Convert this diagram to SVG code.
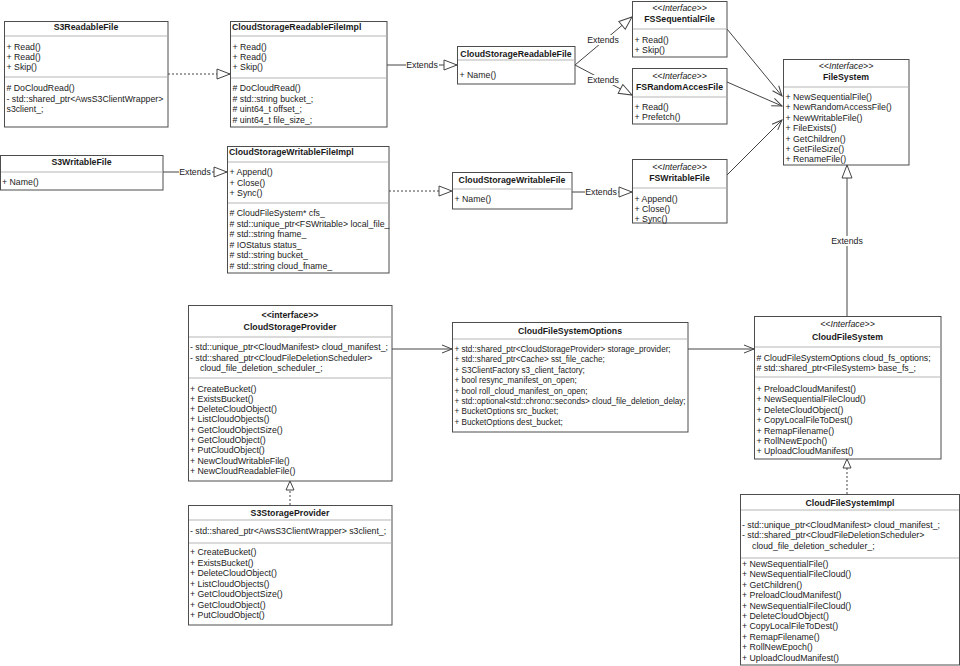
<svg xmlns="http://www.w3.org/2000/svg" width="960" height="666" viewBox="0 0 960 666">
<style>
.bg{fill:#fff}
.box{fill:#fff;stroke:#4d4d4d;stroke-width:1}
.sep{stroke:#b5b5b5;stroke-width:1}
text{font-family:"Liberation Sans",Arial,Helvetica,sans-serif;font-size:8.75px;fill:#1a1a1a}
.b{font-weight:bold}
.i{font-style:italic}
.m{text-anchor:middle}
.o{font-size:8.15px}
.c{stroke:#444;stroke-width:1;fill:none}
.d{stroke-dasharray:2 2}
.lb{fill:#fff}
</style>
<defs>
<marker id="tri" viewBox="-1 -1 15 12" refX="13" refY="5" markerWidth="15" markerHeight="12" orient="auto" markerUnits="userSpaceOnUse"><path d="M0,0 L13,5 L0,10 Z" fill="#fff" stroke="#444" stroke-width="1"/></marker>
<marker id="tri2" viewBox="-1 -1 11 10" refX="9" refY="4" markerWidth="11" markerHeight="10" orient="auto" markerUnits="userSpaceOnUse"><path d="M0,0 L9,4 L0,8 Z" fill="#fff" stroke="#444" stroke-width="1"/></marker>
<marker id="open" viewBox="-1 -1 12 10" refX="10" refY="4" markerWidth="12" markerHeight="10" orient="auto" markerUnits="userSpaceOnUse"><path d="M0,0 L10,4 L0,8" fill="none" stroke="#444" stroke-width="1"/></marker>
</defs>
<rect class="bg" x="0" y="0" width="960" height="666"/>

<g id="connectors">
<path class="c d" d="M168,74 L230,74" marker-end="url(#tri)"/>
<path class="c" d="M387,65 L457,65" marker-end="url(#tri)"/>
<path class="c" d="M575,65 L632,17" marker-end="url(#tri)"/>
<path class="c" d="M575,65 L632,95" marker-end="url(#tri)"/>
<path class="c" d="M727,29 L782,96" marker-end="url(#open)"/>
<path class="c" d="M727,82 L782,106" marker-end="url(#open)"/>
<path class="c" d="M727,175 L782,120" marker-end="url(#open)"/>
<path class="c" d="M163,172 L227,172" marker-end="url(#tri)"/>
<path class="c d" d="M389,191 L452,191" marker-end="url(#tri)"/>
<path class="c" d="M572,192 L632,192" marker-end="url(#tri)"/>
<path class="c" d="M847,316 L847,165" marker-end="url(#tri)"/>
<path class="c d" d="M847,494 L847,459" marker-end="url(#tri2)"/>
<path class="c d" d="M290,505 L290,481" marker-end="url(#tri2)"/>
<path class="c" d="M392,349 L452,349" marker-end="url(#open)"/>
<path class="c" d="M688,349 L754,349" marker-end="url(#open)"/>
<rect class="lb" x="406" y="60" width="33" height="10"/><text class="m" x="422" y="68">Extends</text>
<rect class="lb" x="587" y="35" width="33" height="10"/><text class="m" x="603" y="43">Extends</text>
<rect class="lb" x="587" y="75" width="33" height="10"/><text class="m" x="603" y="83">Extends</text>
<rect class="lb" x="179" y="167" width="33" height="10"/><text class="m" x="195" y="175">Extends</text>
<rect class="lb" x="585" y="187" width="33" height="10"/><text class="m" x="601" y="195">Extends</text>
<rect class="lb" x="831" y="236" width="33" height="10"/><text class="m" x="847" y="244">Extends</text>
</g>

<g id="S3ReadableFile">
<rect class="box" x="4.5" y="21.5" width="163.5" height="105.5"/>
<line class="sep" x1="5" y1="36" x2="167.5" y2="36"/>
<line class="sep" x1="5" y1="77" x2="167.5" y2="77"/>
<text class="b m" x="86" y="30">S3ReadableFile</text>
<text x="6.5" y="50">+ Read()</text>
<text x="6.5" y="60">+ Read()</text>
<text x="6.5" y="70">+ Skip()</text>
<text x="6.5" y="91"># DoCloudRead()</text>
<text x="6.5" y="101.5">- std::shared_ptr&lt;AwsS3ClientWrapper&gt;</text>
<text x="6.5" y="112">s3client_;</text>
</g>

<g id="CloudStorageReadableFileImpl">
<rect class="box" x="230.5" y="21.5" width="156.5" height="105.5"/>
<line class="sep" x1="231" y1="36" x2="386.5" y2="36"/>
<line class="sep" x1="231" y1="78" x2="386.5" y2="78"/>
<text class="b" x="232" y="30">CloudStorageReadableFileImpl</text>
<text x="232.5" y="50">+ Read()</text>
<text x="232.5" y="60">+ Read()</text>
<text x="232.5" y="70">+ Skip()</text>
<text x="232.5" y="91"># DoCloudRead()</text>
<text x="232.5" y="101.5"># std::string bucket_;</text>
<text x="232.5" y="112"># uint64_t  offset_;</text>
<text x="232.5" y="122.5"># uint64_t  file_size_;</text>
</g>

<g id="CloudStorageReadableFile">
<rect class="box" x="457.5" y="46.5" width="117.5" height="37.5"/>
<line class="sep" x1="458" y1="60" x2="574.5" y2="60"/>
<text class="b m" x="516" y="57">CloudStorageReadableFile</text>
<text x="459.5" y="77.5">+ Name()</text>
</g>

<g id="FSSequentialFile">
<rect class="box" x="632.5" y="1.5" width="94.5" height="55.5"/>
<line class="sep" x1="633" y1="29" x2="726.5" y2="29"/>
<text class="i m" x="679.5" y="11">&lt;&lt;Interface&gt;&gt;</text>
<text class="b m" x="679.5" y="22">FSSequentialFile</text>
<text x="634.5" y="43">+ Read()</text>
<text x="634.5" y="53">+ Skip()</text>
</g>

<g id="FSRandomAccesFile">
<rect class="box" x="632.5" y="68.5" width="94.5" height="55.5"/>
<line class="sep" x1="633" y1="97" x2="726.5" y2="97"/>
<text class="i m" x="679.5" y="79">&lt;&lt;Interface&gt;&gt;</text>
<text class="b m" x="679.5" y="89.5">FSRandomAccesFile</text>
<text x="634.5" y="110">+ Read()</text>
<text x="634.5" y="120">+ Prefetch()</text>
</g>

<g id="FileSystem">
<rect class="box" x="783.5" y="59.5" width="125.5" height="105.5"/>
<line class="sep" x1="784" y1="87" x2="908.5" y2="87"/>
<text class="i m" x="846" y="69">&lt;&lt;Interface&gt;&gt;</text>
<text class="b m" x="846" y="80">FileSystem</text>
<text x="785.5" y="100">+ NewSequentialFile()</text>
<text x="785.5" y="110.4">+ NewRandomAccessFile()</text>
<text x="785.5" y="120.8">+ NewWritableFile()</text>
<text x="785.5" y="131.2">+ FileExists()</text>
<text x="785.5" y="141.6">+ GetChildren()</text>
<text x="785.5" y="152">+ GetFileSize()</text>
<text x="785.5" y="162.4">+ RenameFile()</text>
</g>

<g id="S3WritableFile">
<rect class="box" x="0.5" y="155.5" width="162.5" height="34.5"/>
<line class="sep" x1="1" y1="172" x2="162.5" y2="172"/>
<text class="b m" x="81.5" y="164.5">S3WritableFile</text>
<text x="2" y="185">+ Name()</text>
</g>

<g id="CloudStorageWritableFileImpl">
<rect class="box" x="227.5" y="146.5" width="161.5" height="126.5"/>
<line class="sep" x1="228" y1="162" x2="388.5" y2="162"/>
<line class="sep" x1="228" y1="203" x2="388.5" y2="203"/>
<text class="b" x="229" y="155">CloudStorageWritableFileImpl</text>
<text x="229.5" y="175">+ Append()</text>
<text x="229.5" y="185.5">+ Close()</text>
<text x="229.5" y="196">+ Sync()</text>
<text x="229.5" y="216"># CloudFileSystem* cfs_</text>
<text x="229.5" y="226.5"># std::unique_ptr&lt;FSWritable&gt; local_file_</text>
<text x="229.5" y="237"># std::string fname_</text>
<text x="229.5" y="247.5"># IOStatus status_</text>
<text x="229.5" y="258"># std::string bucket_</text>
<text x="229.5" y="268.5"># std::string cloud_fname_</text>
</g>

<g id="CloudStorageWritableFile">
<rect class="box" x="452.5" y="172.5" width="119.5" height="36.5"/>
<line class="sep" x1="453" y1="189" x2="571.5" y2="189"/>
<text class="b m" x="512" y="182.5">CloudStorageWritableFile</text>
<text x="454.5" y="202">+ Name()</text>
</g>

<g id="FSWritableFile">
<rect class="box" x="632.5" y="159.5" width="94.5" height="63.5"/>
<line class="sep" x1="633" y1="188" x2="726.5" y2="188"/>
<text class="i m" x="679.5" y="169.5">&lt;&lt;Interface&gt;&gt;</text>
<text class="b m" x="679.5" y="181">FSWritableFile</text>
<text x="634.5" y="202">+ Append()</text>
<text x="634.5" y="212">+ Close()</text>
<text x="634.5" y="222">+ Sync()</text>
</g>

<g id="CloudStorageProvider">
<rect class="box" x="188.5" y="305.5" width="203.5" height="175.5"/>
<line class="sep" x1="189" y1="337" x2="391.5" y2="337"/>
<line class="sep" x1="189" y1="378" x2="391.5" y2="378"/>
<text class="b m" x="290" y="318">&lt;&lt;interface&gt;&gt;</text>
<text class="b m" x="290" y="330">CloudStorageProvider</text>
<text x="190" y="350">- std::unique_ptr&lt;CloudManifest&gt; cloud_manifest_;</text>
<text x="190" y="360.5">- std::shared_ptr&lt;CloudFileDeletionScheduler&gt;</text>
<text x="200" y="371">cloud_file_deletion_scheduler_;</text>
<text x="190" y="391.5">+ CreateBucket()</text>
<text x="190" y="401.8">+ ExistsBucket()</text>
<text x="190" y="412.1">+ DeleteCloudObject()</text>
<text x="190" y="422.4">+ ListCloudObjects()</text>
<text x="190" y="432.7">+ GetCloudObjectSize()</text>
<text x="190" y="443">+ GetCloudObject()</text>
<text x="190" y="453.3">+ PutCloudObject()</text>
<text x="190" y="463.6">+ NewCloudWritableFile()</text>
<text x="190" y="473.9">+ NewCloudReadableFile()</text>
</g>

<g id="S3StorageProvider">
<rect class="box" x="188.5" y="505.5" width="203.5" height="119.5"/>
<line class="sep" x1="189" y1="520" x2="391.5" y2="520"/>
<line class="sep" x1="189" y1="543" x2="391.5" y2="543"/>
<text class="b m" x="290" y="516">S3StorageProvider</text>
<text x="190" y="534">- std::shared_ptr&lt;AwsS3ClientWrapper&gt; s3client_;</text>
<text x="190" y="555">+ CreateBucket()</text>
<text x="190" y="565.5">+ ExistsBucket()</text>
<text x="190" y="576">+ DeleteCloudObject()</text>
<text x="190" y="586.5">+ ListCloudObjects()</text>
<text x="190" y="597">+ GetCloudObjectSize()</text>
<text x="190" y="607.5">+ GetCloudObject()</text>
<text x="190" y="618">+ PutCloudObject()</text>
</g>

<g id="CloudFileSystemOptions">
<rect class="box" x="452.5" y="322.5" width="235.5" height="109.5"/>
<line class="sep" x1="453" y1="339" x2="687.5" y2="339"/>
<text class="b m" x="570" y="333.5">CloudFileSystemOptions</text>
<text class="o" x="454.5" y="352">+ std::shared_ptr&lt;CloudStorageProvider&gt; storage_provider;</text>
<text class="o" x="454.5" y="362.4">+ std::shared_ptr&lt;Cache&gt; sst_file_cache;</text>
<text class="o" x="454.5" y="372.8">+ S3ClientFactory s3_client_factory;</text>
<text class="o" x="454.5" y="383.2">+ bool resync_manifest_on_open;</text>
<text class="o" x="454.5" y="393.6">+ bool roll_cloud_manifest_on_open;</text>
<text class="o" x="454.5" y="404">+ std::optional&lt;std::chrono::seconds&gt; cloud_file_deletion_delay;</text>
<text class="o" x="454.5" y="414.4">+ BucketOptions src_bucket;</text>
<text class="o" x="454.5" y="424.8">+ BucketOptions dest_bucket;</text>
</g>

<g id="CloudFileSystem">
<rect class="box" x="754.5" y="316.5" width="186.5" height="142.5"/>
<line class="sep" x1="755" y1="347" x2="940.5" y2="347"/>
<line class="sep" x1="755" y1="377" x2="940.5" y2="377"/>
<text class="i m" x="847.5" y="327">&lt;&lt;Interface&gt;&gt;</text>
<text class="b m" x="847.5" y="340">CloudFileSystem</text>
<text x="756.5" y="361"># CloudFileSystemOptions cloud_fs_options;</text>
<text x="756.5" y="371"># std::shared_ptr&lt;FileSystem&gt; base_fs_;</text>
<text x="756.5" y="392">+ PreloadCloudManifest()</text>
<text x="756.5" y="402.4">+ NewSequentialFileCloud()</text>
<text x="756.5" y="412.8">+ DeleteCloudObject()</text>
<text x="756.5" y="423.2">+ CopyLocalFileToDest()</text>
<text x="756.5" y="433.6">+ RemapFilename()</text>
<text x="756.5" y="444">+ RollNewEpoch()</text>
<text x="756.5" y="454.4">+ UploadCloudManifest()</text>
</g>

<g id="CloudFileSystemImpl">
<rect class="box" x="740.5" y="494.5" width="219" height="170.5"/>
<line class="sep" x1="741" y1="510" x2="959" y2="510"/>
<line class="sep" x1="741" y1="558" x2="959" y2="558"/>
<text class="b m" x="850" y="506">CloudFileSystemImpl</text>
<text x="742" y="528">- std::unique_ptr&lt;CloudManifest&gt; cloud_manifest_;</text>
<text x="742" y="538">- std::shared_ptr&lt;CloudFileDeletionScheduler&gt;</text>
<text x="752" y="548.5">cloud_file_deletion_scheduler_;</text>
<text x="742" y="567">+ NewSequentialFile()</text>
<text x="742" y="577.4">+ NewSequentialFileCloud()</text>
<text x="742" y="587.8">+ GetChildren()</text>
<text x="742" y="598.2">+ PreloadCloudManifest()</text>
<text x="742" y="608.6">+ NewSequentialFileCloud()</text>
<text x="742" y="619">+ DeleteCloudObject()</text>
<text x="742" y="629.4">+ CopyLocalFileToDest()</text>
<text x="742" y="639.8">+ RemapFilename()</text>
<text x="742" y="650.2">+ RollNewEpoch()</text>
<text x="742" y="660.6">+ UploadCloudManifest()</text>
</g>
</svg>
